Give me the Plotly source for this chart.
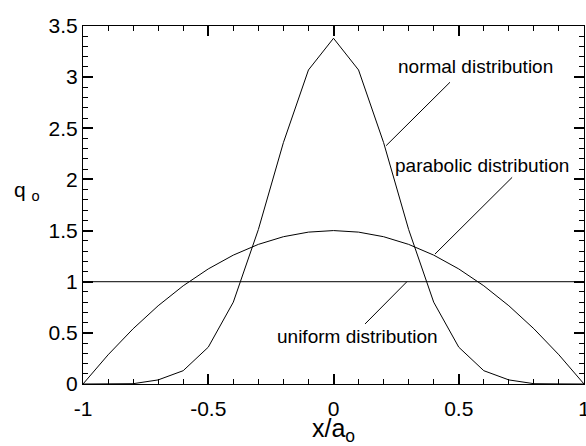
import plotly.graph_objects as go

# Nondimensional position across the contact, x / a0
x_pos = [-1.0, -0.9, -0.8, -0.7, -0.6, -0.5, -0.4, -0.3, -0.2, -0.1, 0.0,
         0.1, 0.2, 0.3, 0.4, 0.5, 0.6, 0.7, 0.8, 0.9, 1.0]

# Pressure profiles q0 for the three distributions
q_normal = [0.0, 0.001, 0.003, 0.04, 0.13, 0.36, 0.80, 1.51, 2.36, 3.07, 3.38,
            3.07, 2.36, 1.51, 0.80, 0.36, 0.13, 0.04, 0.003, 0.001, 0.0]
q_parabolic = [0.0, 0.285, 0.54, 0.765, 0.96, 1.125, 1.26, 1.365, 1.44, 1.485, 1.5,
               1.485, 1.44, 1.365, 1.26, 1.125, 0.96, 0.765, 0.54, 0.285, 0.0]
q_uniform = [1.0] * len(x_pos)

x_ticks = [-1, -0.5, 0, 0.5, 1]
x_tick_text = ["-1", "-0.5", "0", "0.5", "1"]
y_ticks = [0, 0.5, 1, 1.5, 2, 2.5, 3, 3.5]
y_tick_text = ["0", "0.5", "1", "1.5", "2", "2.5", "3", "3.5"]

# Curve labels: text, text position, leader line start (near text) and end (on curve)
labels = [
    ("normal distribution", 0.565, 3.10, (0.465, 2.95), (0.21, 2.33)),
    ("parabolic distribution", 0.593, 2.14, (0.713, 2.02), (0.405, 1.27)),
    ("uniform distribution", 0.094, 0.46, (0.126, 0.587), (0.293, 1.0)),
]

FONT = "Liberation Sans, Arial, Helvetica, sans-serif"
CLEAR = "rgba(0,0,0,0)"
line_style = dict(color="black", width=1)

fig = go.Figure()
for q in (q_normal, q_parabolic, q_uniform):
    fig.add_trace(go.Scatter(x=x_pos, y=q, mode="lines", line=line_style,
                             showlegend=False, hoverinfo="skip"))

for text, tx, ty, (x0, y0), (x1, y1) in labels:
    fig.add_trace(go.Scatter(x=[x0, x1], y=[y0, y1], mode="lines", line=line_style,
                             showlegend=False, hoverinfo="skip"))
    fig.add_annotation(x=tx, y=ty, text=text, showarrow=False,
                       font=dict(family=FONT, size=19, color="black"))

fig.update_xaxes(
    range=[-1, 1], showline=True, linecolor="black", mirror="allticks",
    gridcolor=CLEAR, zerolinecolor=CLEAR,
    ticks="inside", ticklen=10, tickwidth=2, tickcolor="black",
    tickmode="array", tickvals=x_ticks, ticktext=x_tick_text,
    minor=dict(ticks="inside", ticklen=5, tickwidth=1, tickcolor="black", dtick=0.1, tick0=0,
               gridcolor=CLEAR),
    ticklabelstandoff=6, ticklabeloverflow="allow", automargin=False,
    title=dict(text="x/a<sub>o</sub>", standoff=10),
)
fig.update_yaxes(
    range=[0, 3.5], showline=True, linecolor="black", mirror="allticks",
    gridcolor=CLEAR, zerolinecolor=CLEAR,
    ticks="inside", ticklen=10, tickwidth=2, tickcolor="black",
    tickmode="array", tickvals=y_ticks, ticktext=y_tick_text,
    minor=dict(ticks="inside", ticklen=5, tickwidth=1, tickcolor="black", dtick=0.1, tick0=0,
               gridcolor=CLEAR),
    automargin=False,
)

# Horizontal y-axis label
fig.add_annotation(x=-0.142, y=0.54, xref="paper", yref="paper", text="q <sub>o</sub>",
                   showarrow=False)

fig.update_layout(
    width=586, height=446,
    margin=dict(l=83, r=2, t=26, b=62),
    font=dict(family=FONT, size=21, color="black"),
    paper_bgcolor="white", plot_bgcolor="white",
)

fig.write_html("out.html")
